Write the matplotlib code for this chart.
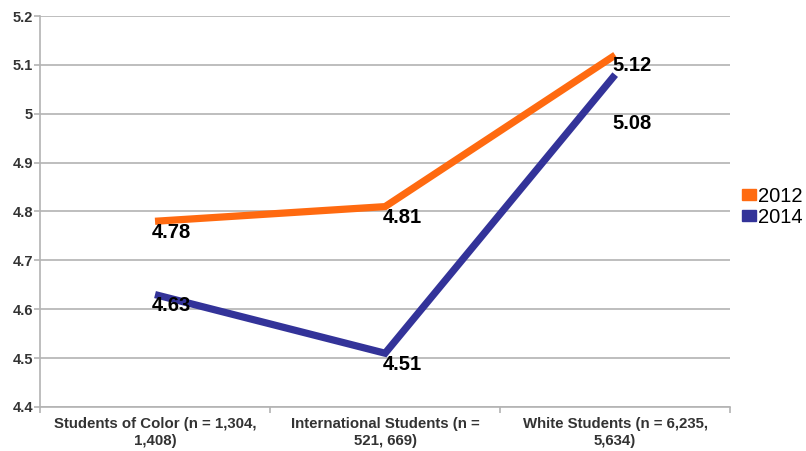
import matplotlib.pyplot as plt
import numpy as np

plt.rcParams['font.family'] = ['Liberation Sans', 'DejaVu Sans']

categories = ['Students of Color (n = 1,304,\n1,408)',
              'International Students (n =\n521, 669)',
              'White Students (n = 6,235,\n5,634)']
years = ['2012', '2014']
scores_2012 = [4.78, 4.81, 5.12]
scores_2014 = [4.63, 4.51, 5.08]
yticks = [4.4, 4.5, 4.6, 4.7, 4.8, 4.9, 5.0, 5.1, 5.2]
ytick_labels = ['4.4', '4.5', '4.6', '4.7', '4.8', '4.9', '5', '5.1', '5.2']

colors = ['#ff6a10', '#333399']
grid_col = '#b3b3b3'

fig = plt.figure(figsize=(8.06, 4.51), dpi=100)
ax = fig.add_axes([0.0496, 0.0976, 0.8564, 0.8669])

x = np.arange(len(categories))
for series, name, col in zip([scores_2012, scores_2014], years, colors):
    ax.plot(x, series, color=col, lw=5.2, solid_joinstyle='miter',
            solid_capstyle='butt', label=name)
    for xi, v in zip(x, series):
        dy = -28 if (name == '2014' and xi == 2) else -1
        ax.annotate('%.2f' % v, (xi, v), xytext=(-2, dy), textcoords='offset points',
                    ha='left', va='top', fontsize=14.5, fontweight='bold')

ax.set_xlim(-0.5, 2.5)
ax.set_ylim(4.4, 5.2)
ax.set_yticks(yticks)
ax.set_yticklabels(ytick_labels, fontsize=10.5, fontweight='bold', color='#333333')
ax.set_xticks(x)
ax.set_xticklabels(categories, fontsize=10.8, fontweight='bold', color='#333333',
                   linespacing=1.3)
ax.set_xticks([-0.5, 0.5, 1.5, 2.5], minor=True)
ax.tick_params(axis='x', which='major', length=0, pad=7)
ax.tick_params(axis='x', which='minor', length=4, color=grid_col, width=1.2)
ax.tick_params(axis='y', length=4, color=grid_col, width=1.2, pad=1)
ax.grid(axis='y', color=grid_col, lw=1.2)
ax.set_axisbelow(True)
for s in ['top', 'right']:
    ax.spines[s].set_visible(False)
for s in ['left', 'bottom']:
    ax.spines[s].set_color(grid_col)
    ax.spines[s].set_linewidth(1.2)

handles = [plt.Rectangle((0, 0), 1, 1, color=c) for c in colors]
fig.legend(handles, years, loc='center left', bbox_to_anchor=(0.921, 0.542),
           frameon=False, fontsize=14.5, handlelength=0.7, handleheight=0.45,
           handletextpad=0.1, labelspacing=0.1, borderpad=0, borderaxespad=0)

fig.savefig('out.png', dpi=100)
